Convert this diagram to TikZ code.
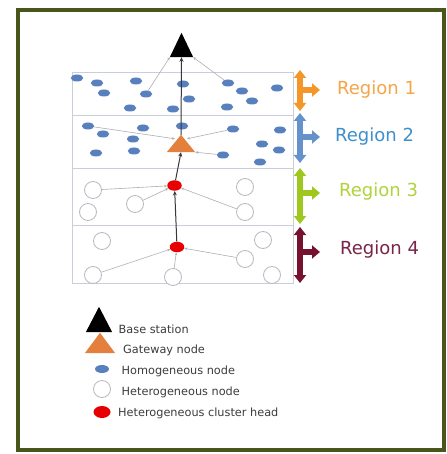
\documentclass[tikz,border=0pt]{standalone}
\usepackage{fontspec}
\setmainfont{DejaVu Sans}
\usetikzlibrary{arrows.meta,shapes.geometric}
\definecolor{framecol}{RGB}{72,86,28}
\definecolor{boxcol}{RGB}{200,206,218}
\definecolor{homblue}{RGB}{88,128,188}
\definecolor{hetgray}{RGB}{185,185,192}
\definecolor{chred}{RGB}{232,0,0}
\definecolor{gworange}{RGB}{228,128,62}
\definecolor{linkgray}{RGB}{175,175,180}
\definecolor{darkline}{RGB}{55,55,60}
\definecolor{aorange}{RGB}{245,150,40}
\definecolor{ablue}{RGB}{102,146,204}
\definecolor{agreen}{RGB}{158,200,30}
\definecolor{ared}{RGB}{118,18,48}
\definecolor{torange}{RGB}{244,166,72}
\definecolor{tblue}{RGB}{62,144,200}
\definecolor{tgreen}{RGB}{178,210,62}
\definecolor{tred}{RGB}{122,36,74}
\definecolor{legtext}{RGB}{60,60,60}
\begin{document}
\begin{tikzpicture}[x=1pt,y=-1pt,
  homo/.style={ellipse, fill=homblue, minimum width=12.5pt, minimum height=7pt, inner sep=0pt},
  hetero/.style={circle, draw=hetgray, line width=0.8pt, fill=white, minimum size=17pt, inner sep=0pt},
  chead/.style={ellipse, fill=chred, minimum width=14.5pt, minimum height=10.5pt, inner sep=0pt},
  tribox/.style={rectangle, inner sep=0pt},
  link/.style={draw=linkgray, line width=0.6pt, -{Stealth[length=3pt,width=2.6pt]}},
  uplink/.style={draw=darkline, line width=1pt, -{Stealth[length=4.5pt,width=4pt]}},
  regarrow/.style={line width=6pt, {Triangle[length=8pt,width=12pt]}-{Triangle[length=8pt,width=12pt]}},
  sidearrow/.style={line width=6pt, -{Triangle[length=8pt,width=13pt]}},
  regtext/.style={anchor=west, font=\fontsize{18}{20}\selectfont, inner sep=0pt},
  legtxt/.style={anchor=west, font=\fontsize{11.3}{13}\selectfont, text=legtext, inner sep=0pt}
]
\useasboundingbox (0,0) rectangle (446,454);
\fill[white] (0,0) rectangle (446,454);
\draw[framecol, line width=4pt] (17.5,10) rectangle (444,450);

% region box
\draw[boxcol, line width=0.7pt] (72,72) rectangle (293,283);
\draw[boxcol, line width=0.7pt] (72,115) -- (293,115);
\draw[boxcol, line width=0.7pt] (72,168) -- (293,168);
\draw[boxcol, line width=0.7pt] (72,225) -- (293,225);

% homogeneous nodes
\foreach \px/\py [count=\i] in {77/78,97/83,104/93,136/81,146/94,130/108,183/84,189/99,173/109,228/83,242/91,252/101,227/107,277/88,
  88/126,103/134,143/128,133/139,96/153,134/151,182/126,233/129,280/130,262/144,279/150,223/155,260/162}
  \node[homo] (b\i) at (\px,\py) {};

% heterogeneous nodes
\foreach \px/\py [count=\i] in {93/190,245/187,135/204,88/212,245/212,102/241,263/240,245/259,93/275,173/277,272/275}
  \node[hetero] (c\i) at (\px,\py) {};

% cluster heads
\node[chead] (ch3) at (174.5,185.5) {};
\node[chead] (ch4) at (177,247) {};

% base station and gateway
\node[tribox, minimum width=23pt, minimum height=24pt] (bs) at (181.5,45) {};
\fill[black] (bs.south west) -- (bs.south east) -- (bs.north) -- cycle;
\node[tribox, minimum width=28pt, minimum height=17pt] (gw) at (181,143.5) {};
\fill[gworange] (gw.south west) -- (gw.south east) -- (gw.north) -- cycle;

% links
\draw[link] (b5) -- (bs.south west);
\draw[link] (b10) -- (bs.south east);
\draw[link] (b15) -- ([xshift=-6pt,yshift=-4pt]gw.north);
\draw[link] (b22) -- ([xshift=6pt,yshift=-4pt]gw.north);
\draw[link] (b26) -- (gw.south east);
\draw[link] (c1) -- (ch3);
\draw[link] (c3) -- (ch3);
\draw[link] (c5) -- (ch3);
\draw[link] (c9) -- (ch4);
\draw[link] (c8) -- (ch4);
\draw[link] (c10) -- (ch4);
\draw[uplink] (ch4) -- (ch3);
\draw[uplink] (ch3) -- (gw.south);
\draw[uplink] (gw.north) -- (bs.south);

% region arrows
\coordinate (r1t) at (300,70);  \coordinate (r1b) at (300,111);
\coordinate (r1m) at (300,90);  \coordinate (r1e) at (320,90);
\coordinate (r2t) at (300,113); \coordinate (r2b) at (300,163);
\coordinate (r2m) at (300,137); \coordinate (r2e) at (320,137);
\coordinate (r3t) at (300,168); \coordinate (r3b) at (300,224);
\coordinate (r3m) at (300,193); \coordinate (r3e) at (320,193);
\coordinate (r4t) at (300,227); \coordinate (r4b) at (300,283);
\coordinate (r4m) at (300,252); \coordinate (r4e) at (320,252);
\draw[regarrow, aorange] (r1t) -- (r1b);
\draw[sidearrow, aorange] (r1m) -- (r1e);
\draw[regarrow, ablue] (r2t) -- (r2b);
\draw[sidearrow, ablue] (r2m) -- (r2e);
\draw[regarrow, agreen] (r3t) -- (r3b);
\draw[sidearrow, agreen] (r3m) -- (r3e);
\draw[regarrow, ared] (r4t) -- (r4b);
\draw[sidearrow, ared] (r4m) -- (r4e);

\node[regtext, text=torange] (t1) at (337,90) {Region 1};
\node[regtext, text=tblue] (t2) at (335,137) {Region 2};
\node[regtext, text=tgreen] (t3) at (339,192) {Region 3};
\node[regtext, text=tred] (t4) at (340,250) {Region 4};

% legend
\node[tribox, minimum width=26pt, minimum height=25pt] (lbs) at (99,319.5) {};
\fill[black] (lbs.south west) -- (lbs.south east) -- (lbs.north) -- cycle;
\node[tribox, minimum width=30pt, minimum height=20pt] (lgw) at (100,343) {};
\fill[gworange] (lgw.south west) -- (lgw.south east) -- (lgw.north) -- cycle;
\node[homo, minimum width=14pt, minimum height=8pt] (lhomo) at (102,369) {};
\node[hetero, minimum size=17pt] (lhet) at (102,389) {};
\node[chead, minimum width=17pt, minimum height=12pt] (lch) at (102,412) {};

\node[legtxt] (lt1) at (118.5,329) {Base station};
\node[legtxt] (lt2) at (123,350) {Gateway node};
\node[legtxt] (lt3) at (121.5,371.5) {Homogeneous node};
\node[legtxt] (lt4) at (121.5,392) {Heterogeneous node};
\node[legtxt] (lt5) at (118,413) {Heterogeneous cluster head};
\end{tikzpicture}
\end{document}
